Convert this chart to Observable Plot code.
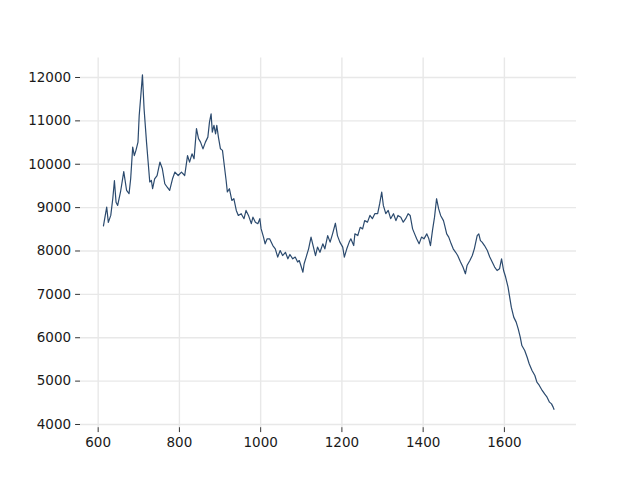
<!DOCTYPE html>
<html>
<head>
<meta charset="utf-8">
<script src="https://cdn.jsdelivr.net/npm/d3@7"></script>
<script src="https://cdn.jsdelivr.net/npm/@observablehq/plot@0.6"></script>
<style>
  html, body { margin: 0; padding: 0; background: #fff; }
  #chart svg { display: block; }
</style>
</head>
<body>
<div id="chart"></div>
<script>
const wavenumber = [613,621,625,631,636,640,644,648,655,663,670,676,680,685,689,693,698,701,705,709,713,719,723,727,731,734,739,745,752,758,764,770,776,783,789,797,
805,813,820,825,831,836,842,847,852,858,864,870,874,878,881,885,889,892,896,901,906,911,915,918,923,929,934,940,945,952,959,964,970,977,981,987,993,998,1001,1007,1011,1016,
1022,1030,1036,1042,1048,1054,1061,1067,1072,1079,1085,1091,1095,1099,1104,1107,1112,1118,1124,1128,1135,1140,1146,1153,1158,1165,1171,1177,1184,1189,1195,1202,1206,1212,1218,
1222,1229,1232,1239,1245,1251,1256,1263,1269,1275,1281,1288,1293,1298,1302,1308,1314,1320,1327,1333,1338,1345,1351,1357,1363,1368,1374,1379,1384,1390,1396,1402,1409,1414,1418,1423,1428,1433,1438,1443,1450,1453,1458,1463,1469,1474,1480,1485,1492,1498,1504,1508,1515,1521,1526,1533,1537,1541,1545,1551,1558,1564,1570,1576,1582,1588,1593,1598,1603,1609,1613,1617,1623,1629,1634,1639,1643,1650,1656,1661,1668,1675,1680,1686,1693,1699,1705,1711,1716,1720,1722];
const intensity = [8580,9010,8660,8820,9210,9620,9125,9050,9360,9830,9395,9320,9665,10395,10200,10320,10510,11125,11585,12060,11280,10510,10050,9590,9625,9435,9665,9740,10050,9895,9550,9470,9395,9665,9820,9740,
9820,9740,10200,10050,10240,10125,10820,10590,10510,10355,10510,10625,10970,11160,10740,10895,10700,10895,10625,10355,10320,9930,9625,9360,9435,9165,9205,8935,8820,8860,8745,8935,8820,8630,8780,8665,8630,8745,8515,8320,8165,8280,
8280,8125,8050,7860,8010,7895,7970,7820,7920,7820,7860,7745,7780,7665,7510,7705,7860,8050,8320,8165,7895,8090,7970,8165,8050,8355,8205,8395,8640,8355,8205,8090,7860,8050,8205,
8280,8125,8395,8355,8545,8510,8700,8665,8820,8745,8860,8860,9090,9360,9050,8860,8935,8745,8860,8700,8820,8780,8665,8745,8860,8820,8510,8395,8280,8165,8320,8280,8395,8280,8125,8475,8780,9205,8975,8820,8700,8590,8395,8320,8165,8050,7970,7895,7745,7630,7475,7665,7780,7895,8050,8355,8395,8240,8205,8125,8010,7860,7745,7630,7550,7590,7820,7550,7400,7165,6935,6705,6475,6360,6205,6015,5820,5705,5550,5400,5245,5130,4975,4900,4785,4705,4630,4515,4475,4400,4350];
const xTicks = [600, 800, 1000, 1200, 1400, 1600];
const yTicks = [4000, 5000, 6000, 7000, 8000, 9000, 10000, 11000, 12000];

const data = wavenumber.map((w, i) => ({w, v: intensity[i]}));

const gridColor = "#e8e8e8";
const plot = Plot.plot({
  width: 640,
  height: 480,
  marginLeft: 80,
  marginRight: 64,
  marginTop: 57.6,
  marginBottom: 52.8,
  style: {fontFamily: "DejaVu Sans", fontSize: "13.5px", color: "#1a1a1a", background: "#fff"},
  x: {domain: [556.5, 1777.5]},
  y: {domain: [3926, 12447]},
  marks: [
    Plot.gridX(xTicks, {stroke: gridColor, strokeOpacity: 1, strokeWidth: 1.4}),
    Plot.gridY(yTicks, {stroke: gridColor, strokeOpacity: 1, strokeWidth: 1.4}),
    Plot.axisX(xTicks, {tickSize: 4.9, tickPadding: 5, tickFormat: d => String(d), label: null, stroke: "#333", fontSize: 13.5}),
    Plot.axisY(yTicks, {tickSize: 4.9, tickPadding: 4.5, tickFormat: d => String(d), label: null, stroke: "#333", fontSize: 13.5}),
    Plot.line(data, {x: "w", y: "v", stroke: "#2b4a6e", strokeWidth: 1.2})
  ]
});
document.getElementById("chart").appendChild(plot);
</script>
</body>
</html>
